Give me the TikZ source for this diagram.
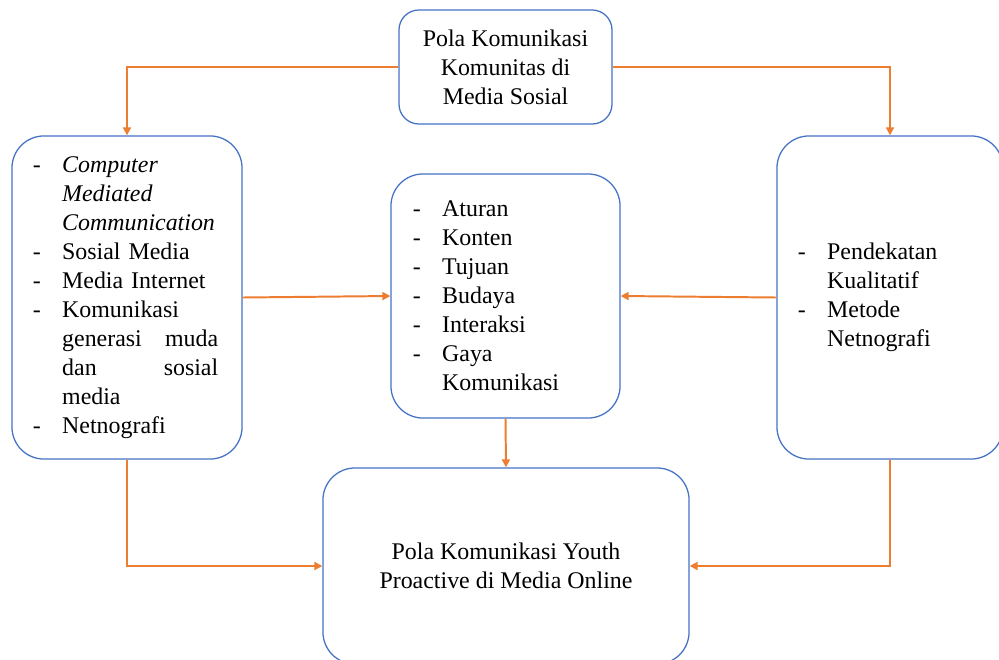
\documentclass[tikz,border=0pt]{standalone}
\usepackage{fontspec}
\setmainfont{Liberation Serif}
\usepackage{xcolor}
\usetikzlibrary{arrows.meta}

\definecolor{boxblue}{HTML}{4472C4}
\definecolor{linkorange}{HTML}{ED7D31}
\newcommand{\dashitem}[1]{\makebox[0.73cm][l]{-}#1}
\newcommand{\dashcont}[1]{\hspace*{0.73cm}#1}
\newcommand{\spreadline}[2]{\makebox[3.9cm][l]{#1\hfill #2}}

\begin{document}
\begin{tikzpicture}[x=0.025cm,y=-0.025cm,>={Triangle[length=2mm,width=2mm]},
  box/.style={draw=boxblue,line width=0.9pt,rounded corners=0.8cm,fill=white,
    font=\fontsize{17}{20.6}\selectfont},
  listbox/.style={box,align=left,minimum height=8.075cm},
  link/.style={->,draw=linkorange,line width=1.4pt}]
  \useasboundingbox[clip] (0,0) rectangle (999,659);

  % Top
  \node[box,rounded corners=0.5cm,minimum width=5.325cm,minimum height=2.85cm,align=center]
    (topic) at (505.5,67) {Pola Komunikasi\\Komunitas di\\Media Sosial};

  % Middle row
  \node[listbox,text width=4.7cm,inner xsep=0.525cm] (theory) at (127,297.5)
    {\dashitem{\textit{Computer}}\\
     \dashcont{\textit{Mediated}}\\
     \dashcont{\textit{Communication}}\\
     \dashitem{Sosial Media}\\
     \dashitem{Media Internet}\\
     \dashitem{Komunikasi}\\
     \dashcont{\spreadline{generasi}{muda}}\\
     \dashcont{\spreadline{dan}{sosial}}\\
     \dashcont{media}\\
     \dashitem{Netnografi}};
  \node[listbox,text width=4.625cm,inner xsep=0.55cm,minimum height=6.1cm] (aspect) at (505.5,296)
    {\dashitem{Aturan}\\
     \dashitem{Konten}\\
     \dashitem{Tujuan}\\
     \dashitem{Budaya}\\
     \dashitem{Interaksi}\\
     \dashitem{Gaya}\\
     \dashcont{Komunikasi}};
  \node[listbox,text width=4.6cm,inner xsep=0.525cm] (method) at (890,297.5)
    {\dashitem{Pendekatan}\\
     \dashcont{Kualitatif}\\
     \dashitem{Metode}\\
     \dashcont{Netnografi}};

  % Bottom
  \node[box,minimum width=9.15cm,minimum height=4.9cm,align=center] (result) at (506,566)
    {Pola Komunikasi Youth\\Proactive di Media Online};

  % Links
  \draw[link] (topic.west) -| (theory.north);
  \draw[link] (topic.east) -| (method.north);
  \draw[link] (theory.east) -- (aspect.west);
  \draw[link] (method.west) -- (aspect.east);
  \draw[link] (aspect.south) -- (result.north);
  \draw[link] (theory.south) |- (result.west);
  \draw[link] (method.south) |- (result.east);
\end{tikzpicture}
\end{document}
